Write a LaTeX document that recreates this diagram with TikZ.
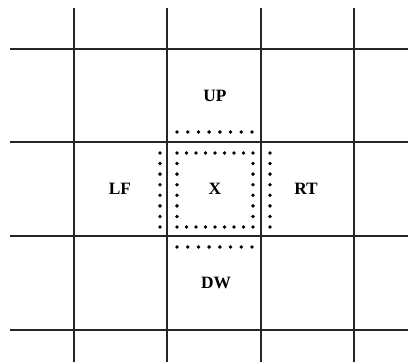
\documentclass[tikz,border=0pt]{standalone}
\usepackage{fontspec}
\setmainfont{Liberation Serif}
\begin{document}
\begin{tikzpicture}[x={(0.75pt,0)},y={(0,-0.75pt)},
  gridline/.style={line width=1.0pt,draw=black!85},
  dotmark/.style={fill=black,draw=none},
  lbl/.style={font=\bfseries\fontsize{13pt}{15pt}\selectfont,inner sep=0pt}]
\useasboundingbox (0,0) rectangle (408,362);
% grid
\foreach \x in {74,167,261,354} \draw[gridline] (\x,8) -- (\x,362);
\foreach \y in {49,142,236,330} \draw[gridline] (10,\y) -- (408,\y);
% outer dotted rows/columns
\foreach \i in {0,...,7} {
  \fill[dotmark] ({177+\i*75/7},132) circle (1.9);
  \fill[dotmark] ({177+\i*75/7},247) circle (1.9);
  \fill[dotmark] (160,{153+\i*74/7}) circle (1.9);
  \fill[dotmark] (270,{153+\i*74/7}) circle (1.9);
}
% inner dotted square
\foreach \i in {0,...,8} {
  \fill[dotmark] ({177+\i*76/8},153) circle (1.9);
  \fill[dotmark] ({177+\i*76/8},227) circle (1.9);
}
\foreach \i in {1,...,6} {
  \fill[dotmark] (177,{153+\i*74/7}) circle (1.9);
  \fill[dotmark] (253,{153+\i*74/7}) circle (1.9);
}
% labels
\node[lbl] (up) at (215,96) {UP};
\node[lbl] (lf) at (120,189) {LF};
\node[lbl] (x) at (215,189) {X};
\node[lbl] (rt) at (306,189) {RT};
\node[lbl] (dw) at (216,283) {DW};
\end{tikzpicture}
\end{document}
